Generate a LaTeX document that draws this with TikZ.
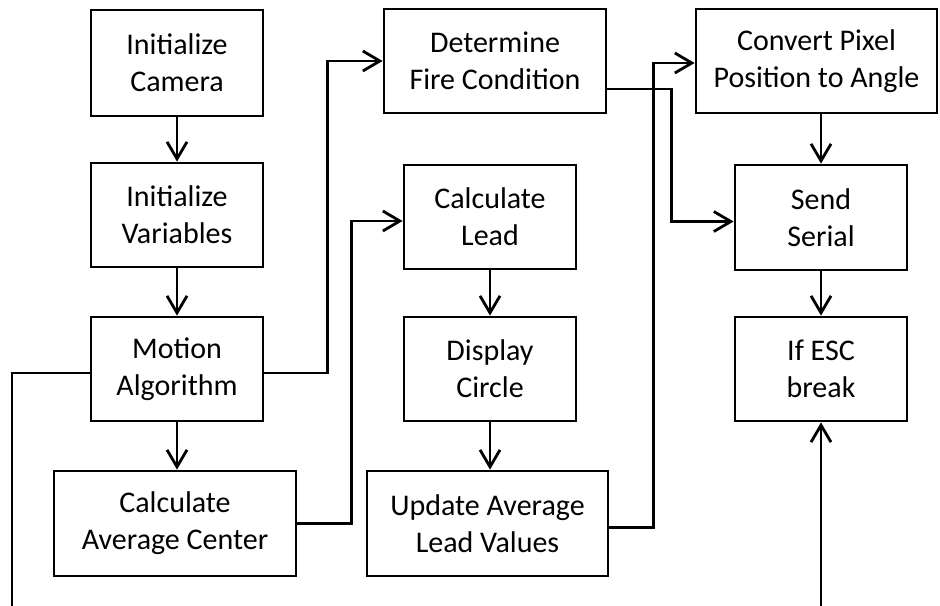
\documentclass[tikz,border=0pt]{standalone}
\usepackage{fontspec}
\setmainfont{Carlito}
\usetikzlibrary{arrows.meta}

\tikzset{
  block/.style={draw, line width=1.4pt, align=center, inner sep=0pt,
    font=\fontsize{15}{18.5}\selectfont},
  arr/.style={line width=1.4pt, -{Straight Barb[length=8.5pt,width=10pt,line width=1.4pt]}},
  link/.style={line width=1.4pt}
}

\begin{document}
\begin{tikzpicture}[x=0.5pt,y=-0.5pt]
        \useasboundingbox (0,0) rectangle (940,605);

        % first column
        \node[block, minimum width=86pt, minimum height=53pt] (cam) at (177,63) {Initialize\\Camera};
        \node[block, minimum width=86pt, minimum height=52pt] (var) at (177,215) {Initialize\\Variables};
        \node[block, minimum width=86pt, minimum height=52pt] (mot) at (177,369) {Motion\\Algorithm};
        \node[block, minimum width=121pt, minimum height=52.5pt] (avg) at (175,523.5) {Calculate\\Average Center};

        % second column
        \node[block, minimum width=111pt, minimum height=52pt] (fire) at (495,61) {Determine\\Fire Condition};
        \node[block, minimum width=86pt, minimum height=52pt] (lead) at (490,217) {Calculate\\Lead};
        \node[block, minimum width=86pt, minimum height=52pt] (disp) at (490,369) {Display\\Circle};
        \node[block, minimum width=120.5pt, minimum height=52.5pt] (upd) at (487.5,523.5) {Update Average\\Lead Values};

        % third column
        \node[block, minimum width=120.5pt, minimum height=52pt] (conv) at (816.5,61) {Convert Pixel\\Position to Angle};
        \node[block, minimum width=86pt, minimum height=52.5pt] (send) at (821,217.5) {Send\\Serial};
        \node[block, minimum width=86pt, minimum height=52pt] (esc) at (821,369) {If ESC\\break};

        \draw[arr] (cam) -- (var);
        \draw[arr] (var) -- (mot);
        \draw[arr] (mot) -- (mot |- avg.north);
        \draw[arr] (lead) -- (disp);
        \draw[arr] (disp) -- (disp |- upd.north);
        \draw[arr] (send |- conv.south) -- (send);
        \draw[arr] (send) -- (esc);

        \draw[arr] ([yshift=-2pt]mot.east) -- ++(63,0) |- (fire.west);
        \draw[arr] (avg.east) -- ++(54,0) |- ([yshift=-2pt]lead.west);
        \draw[arr] ([yshift=-2pt]upd.east) -- ++(44,0) |- ([yshift=-1pt]conv.west);
        \draw[arr] ([yshift=-14pt]fire.east) -- ++(64,0) |- ([yshift=-2pt]send.west);

        % loop back, cut at the bottom
        \coordinate (loopL) at (12,612);
        \coordinate (loopR) at (821,612);
        \draw[link] ([yshift=-2pt]mot.west) -| (loopL);
        \draw[arr] (loopR) -- (esc.south);
\end{tikzpicture}
\end{document}
